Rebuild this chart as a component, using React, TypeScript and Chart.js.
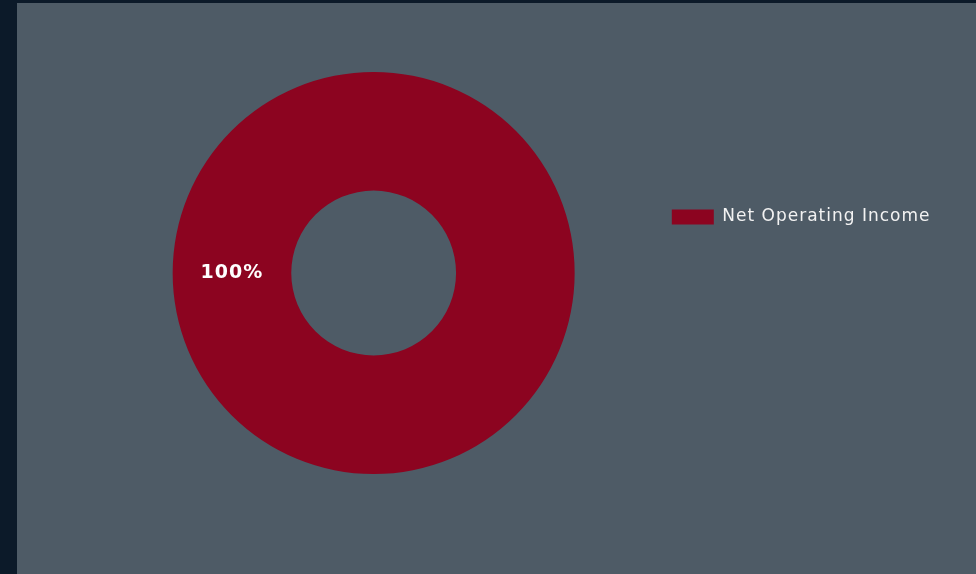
import React, { useEffect, useRef } from "react";
import { Chart, registerables } from "chart.js";

Chart.register(...registerables);

const categories = ["Net Operating Income"];
const values = [100];
const sliceColors = ["#8c0420"];
const valueLabels = ["100%"];

const spacingPlugin = {
  id: "letterSpacing",
  beforeLayout(chart: any) {
    (chart.ctx as any).letterSpacing = "1px";
  },
  beforeDraw(chart: any) {
    (chart.ctx as any).letterSpacing = "1px";
  },
};

const sliceLabelPlugin = {
  id: "sliceLabels",
  afterDatasetsDraw(chart: any) {
    const ctx = chart.ctx;
    const meta = chart.getDatasetMeta(0);
    ctx.save();
    (ctx as any).letterSpacing = "1px";
    ctx.fillStyle = "#ffffff";
    ctx.font = "bold 19px 'DejaVu Sans'";
    ctx.textAlign = "center";
    ctx.textBaseline = "middle";
    meta.data.forEach((arc: any, i: number) => {
      const p = arc.tooltipPosition();
      ctx.fillText(valueLabels[i], p.x, p.y);
    });
    ctx.restore();
  },
};

export default function App() {
  const ref = useRef<HTMLCanvasElement>(null);
  useEffect(() => {
    if (!ref.current) return;
    const chart = new Chart(ref.current, {
      type: "doughnut",
      data: {
        labels: categories,
        datasets: [
          {
            data: values,
            backgroundColor: sliceColors,
            borderWidth: 0,
          },
        ],
      },
      options: {
        animation: false,
        responsive: true,
        maintainAspectRatio: false,
        cutout: "41%",
        rotation: 90,
        layout: { padding: { top: 69, bottom: 100, left: 68.5, right: 35.5 } },
        plugins: {
          tooltip: { enabled: false },
          legend: {
            position: "right",
            align: "start",
            title: {
              display: true,
              text: "",
              font: { size: 10, lineHeight: 1 },
              padding: { top: 116.5, bottom: 0 },
            },
            labels: {
              boxWidth: 42,
              boxHeight: 15,
              padding: 10,
              color: "#f2f2f2",
              font: { size: 17, family: "'DejaVu Sans'" },
            },
          },
        },
      },
      plugins: [spacingPlugin, sliceLabelPlugin],
    });
    return () => chart.destroy();
  }, []);

  return (
    <div style={{ position: "fixed", inset: 0, background: "#0c1a29" }}>
      <div
        style={{
          position: "absolute",
          left: 17,
          top: 3,
          right: 0,
          bottom: 0,
          background: "#4e5b66",
        }}
      >
        <canvas ref={ref} />
      </div>
    </div>
  );
}
